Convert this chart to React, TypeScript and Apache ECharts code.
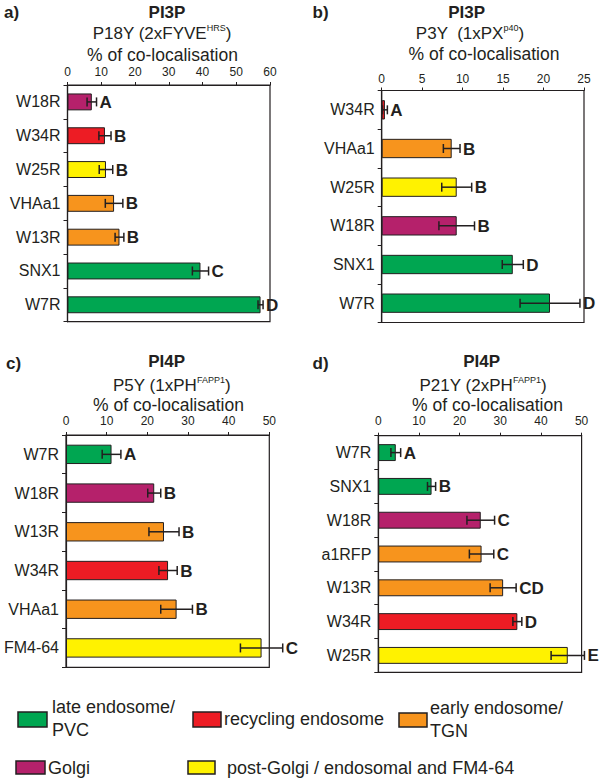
import React, { useEffect, useRef } from "react";
import * as echarts from "echarts";

const FONT = "'Liberation Sans', Arial, sans-serif";
const INK = "#231F20";

const COLORS: Record<string, string> = {
  late: "#00A651",
  recycling: "#ED1C24",
  early: "#F7941D",
  golgi: "#B5216B",
  post: "#FFF200",
};

// Panel a) PI3P  P18Y (2xFYVE HRS)
const aCategories = ["W18R", "W34R", "W25R", "VHAa1", "W13R", "SNX1", "W7R"];
const aValues = [7.2, 11.1, 11.4, 13.8, 15.4, 39.4, 57.2];
const aErrors = [1.4, 1.8, 2.0, 2.6, 1.3, 2.4, 0.75];
const aLetters = ["A", "B", "B", "B", "B", "C", "D"];
const aGroups = ["golgi", "recycling", "post", "early", "early", "late", "late"];

// Panel b) PI3P  P3Y (1xPX p40)
const bCategories = ["W34R", "VHAa1", "W25R", "W18R", "SNX1", "W7R"];
const bValues = [0.4, 8.65, 9.27, 9.27, 16.2, 20.8];
const bErrors = [0.3, 1.03, 1.85, 2.2, 1.3, 3.7];
const bLetters = ["A", "B", "B", "B", "D", "D"];
const bGroups = ["recycling", "early", "post", "golgi", "late", "late"];

// Panel c) PI4P  P5Y (1xPH FAPP1)
const cCategories = ["W7R", "W18R", "W13R", "W34R", "VHAa1", "FM4-64"];
const cValues = [11.2, 21.7, 24.1, 25.1, 27.2, 48.1];
const cErrors = [2.3, 1.6, 3.7, 2.25, 3.9, 5.2];
const cLetters = ["A", "B", "B", "B", "B", "C"];
const cGroups = ["late", "golgi", "early", "recycling", "early", "post"];

// Panel d) PI4P  P21Y (2xPH FAPP1)
const dCategories = ["W7R", "SNX1", "W18R", "a1RFP", "W13R", "W34R", "W25R"];
const dValues = [4.3, 13.1, 25.2, 25.4, 30.7, 34.2, 46.6];
const dErrors = [1.2, 1.0, 3.4, 3.0, 3.2, 1.1, 4.1];
const dLetters = ["A", "B", "C", "C", "CD", "D", "E"];
const dGroups = ["late", "late", "golgi", "early", "early", "recycling", "post"];

const axisMax = [60, 25, 50, 50];
const axisInterval = [10, 5, 10, 10];

const legendItems = [
  { key: "late", label: "late endosome/\nPVC" },
  { key: "recycling", label: "recycling endosome" },
  { key: "early", label: "early endosome/\nTGN" },
  { key: "golgi", label: "Golgi" },
  { key: "post", label: "post-Golgi / endosomal and FM4-64" },
];

const panels = [
  { cats: aCategories, vals: aValues, errs: aErrors, letters: aLetters, groups: aGroups,
    grid: { left: 67.5, top: 85, width: 202.5, height: 236.7 }, labelMargin: 7 },
  { cats: bCategories, vals: bValues, errs: bErrors, letters: bLetters, groups: bGroups,
    grid: { left: 381.7, top: 90.5, width: 202.3, height: 232 }, labelMargin: 6 },
  { cats: cCategories, vals: cValues, errs: cErrors, letters: cLetters, groups: cGroups,
    grid: { left: 66, top: 435, width: 203.3, height: 232.3 }, labelMargin: 8 },
  { cats: dCategories, vals: dValues, errs: dErrors, letters: dLetters, groups: dGroups,
    grid: { left: 378.3, top: 435.7, width: 203.3, height: 236.6 }, labelMargin: 9 },
];

const headers = [
  { tag: "a)", tagX: 4, tagY: 12, lipid: "PI3P", lipidX: 167, lipidY: 12,
    probe: "P18Y (2xFYVE", sup: "HRS", tail: ")", probeX: 162, probeY: 33.5, colX: 162.5, colY: 55 },
  { tag: "b)", tagX: 312.5, tagY: 12, lipid: "PI3P", lipidX: 466.7, lipidY: 12,
    probe: "P3Y  (1xPX", sup: "p40", tail: ")", probeX: 470, probeY: 33.5, colX: 484, colY: 53.5 },
  { tag: "c)", tagX: 6, tagY: 363.3, lipid: "PI4P", lipidX: 166.7, lipidY: 361.7,
    probe: "P5Y (1xPH", sup: "FAPP1", tail: ")", probeX: 171.7, probeY: 385, colX: 168.5, colY: 405 },
  { tag: "d)", tagX: 312.5, tagY: 363.3, lipid: "PI4P", lipidX: 481.7, lipidY: 361.7,
    probe: "P21Y (2xPH", sup: "FAPP1", tail: ")", probeX: 483, probeY: 385, colX: 487.5, colY: 405 },
];

const legendLayout = [
  { x: 18, y: 712, w: 29, h: 15, tx: 52, ty: 718.5 },
  { x: 193, y: 712, w: 28, h: 15, tx: 224, ty: 719 },
  { x: 399, y: 713, w: 28, h: 14, tx: 430, ty: 719 },
  { x: 16, y: 761, w: 29, h: 13, tx: 48, ty: 768 },
  { x: 188, y: 761, w: 27, h: 13, tx: 227, ty: 768 },
];

function buildOption() {
  const grids: any[] = [];
  const xAxes: any[] = [];
  const yAxes: any[] = [];
  const series: any[] = [];

  panels.forEach((p, i) => {
    grids.push({
      ...p.grid,
      show: true,
      borderColor: INK,
      borderWidth: 1.2,
      backgroundColor: "transparent",
      containLabel: false,
    });
    xAxes.push({
      type: "value",
      gridIndex: i,
      position: "top",
      min: 0,
      max: axisMax[i],
      interval: axisInterval[i],
      axisLine: { show: true, lineStyle: { color: INK, width: 1.2 } },
      axisTick: { show: true, length: 3, lineStyle: { color: INK } },
      axisLabel: { fontSize: 12, color: INK, fontFamily: FONT, margin: p.labelMargin },
      splitLine: { show: false },
    });
    yAxes.push({
      type: "category",
      gridIndex: i,
      data: p.cats,
      inverse: true,
      axisLine: { show: true, lineStyle: { color: INK, width: 1.2 } },
      axisTick: { show: true, length: 4, lineStyle: { color: INK } },
      axisLabel: { fontSize: 16, color: INK, fontFamily: FONT, margin: 7 },
    });
    series.push({
      type: "bar",
      xAxisIndex: i,
      yAxisIndex: i,
      barWidth: "50%",
      itemStyle: { borderColor: INK, borderWidth: 1 },
      data: p.vals.map((v, k) => ({ value: v, itemStyle: { color: COLORS[p.groups[k]] } })),
      z: 2,
    });
    const letters = p.letters;
    series.push({
      type: "custom",
      xAxisIndex: i,
      yAxisIndex: i,
      clip: false,
      z: 5,
      encode: { x: 0, y: 1 },
      data: p.vals.map((v, k) => [v, k, p.errs[k]]),
      renderItem: (params: any, api: any) => {
        const v = api.value(0);
        const idx = api.value(1);
        const e = api.value(2);
        const lo = api.coord([Math.max(0, v - e), idx]);
        const hi = api.coord([v + e, idx]);
        const y = lo[1];
        const c = 4.5;
        const st = { stroke: INK, lineWidth: 1.5 };
        return {
          type: "group",
          children: [
            { type: "line", shape: { x1: lo[0], y1: y, x2: hi[0], y2: y }, style: st },
            { type: "line", shape: { x1: lo[0], y1: y - c, x2: lo[0], y2: y + c }, style: st },
            { type: "line", shape: { x1: hi[0], y1: y - c, x2: hi[0], y2: y + c }, style: st },
            {
              type: "text",
              style: {
                text: letters[params.dataIndex],
                x: hi[0] + 3,
                y: y + 0.5,
                fontSize: 17,
                fontWeight: "bold",
                fontFamily: FONT,
                fill: INK,
                align: "left",
                verticalAlign: "middle",
              },
            },
          ],
        };
      },
    });
  });

  const graphics: any[] = [];
  headers.forEach((h) => {
    graphics.push({
      type: "text",
      style: { text: h.tag, x: h.tagX, y: h.tagY, fontSize: 17, fontWeight: "bold", fontFamily: FONT,
        fill: INK, align: "left", verticalAlign: "middle" },
    });
    graphics.push({
      type: "text",
      style: { text: h.lipid, x: h.lipidX, y: h.lipidY, fontSize: 17, fontWeight: "bold", fontFamily: FONT,
        fill: INK, align: "center", verticalAlign: "middle" },
    });
    graphics.push({
      type: "text",
      style: {
        text: `{m|${h.probe}}{s|${h.sup}}{m|${h.tail}}`,
        x: h.probeX,
        y: h.probeY,
        align: "center",
        verticalAlign: "middle",
        rich: {
          m: { fontSize: 17, fontFamily: FONT, fill: INK, lineHeight: 20 },
          s: { fontSize: 9, fontFamily: FONT, fill: INK, verticalAlign: "top", lineHeight: 12 },
        },
      },
    });
    graphics.push({
      type: "text",
      style: { text: "% of co-localisation", x: h.colX, y: h.colY, fontSize: 17.5, fontFamily: FONT,
        fill: INK, align: "center", verticalAlign: "middle" },
    });
  });

  legendItems.forEach((item, k) => {
    const L = legendLayout[k];
    graphics.push({
      type: "rect",
      shape: { x: L.x, y: L.y, width: L.w, height: L.h },
      style: { fill: COLORS[item.key], stroke: INK, lineWidth: 1.5 },
    });
    graphics.push({
      type: "text",
      style: { text: item.label, x: L.tx, y: L.ty, fontSize: 18, fontFamily: FONT, fill: INK,
        align: "left", verticalAlign: "middle", lineHeight: 23 },
    });
  });

  return {
    animation: false,
    backgroundColor: "#ffffff",
    grid: grids,
    xAxis: xAxes,
    yAxis: yAxes,
    series,
    graphic: graphics,
  };
}

export default function App() {
  const ref = useRef<HTMLDivElement>(null);
  useEffect(() => {
    document.body.style.margin = "0";
    if (!ref.current) return;
    const chart = echarts.init(ref.current, undefined, { renderer: "svg" });
    chart.setOption(buildOption() as any);
    return () => chart.dispose();
  }, []);
  return <div ref={ref} style={{ width: 600, height: 778 }} />;
}
